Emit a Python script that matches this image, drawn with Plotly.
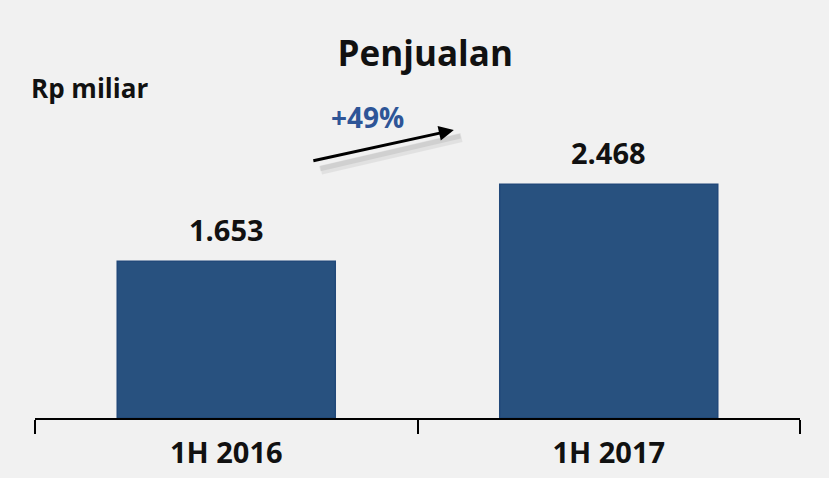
import plotly.graph_objects as go

# data
periods = ["1H 2016", "1H 2017"]
sales = [1653, 2468]
growth_label = "+49%"
unit_label = "Rp miliar"
title_text = "Penjualan"

value_labels = [f"{v:,}".replace(",", ".") for v in sales]

bar_color = "#28517f"
bg = "#f1f1f1"
font_family = "'Open Sans', sans-serif"
txt = "#111111"

fig = go.Figure()

fig.add_trace(go.Bar(x=periods, y=sales,
                     width=0.57,
                     marker=dict(color=bar_color,
                                 line=dict(color="#22497a", width=1.5)),
                     hoverinfo="skip",
                     showlegend=False))

# value labels above bars
for p, v, lab in zip(periods, sales, value_labels):
    fig.add_annotation(x=p, y=v, text="<b>" + lab + "</b>",
                       showarrow=False, yanchor="bottom", yshift=10,
                       font=dict(size=29, color=txt, family=font_family))

# growth arrow (soft shadow first, then the arrow)
fig.add_annotation(x=0.615, y=2960, ax=-142, ay=33, xref="x", yref="y",
                   text="", showarrow=True, arrowhead=0, arrowwidth=9,
                   arrowcolor="rgba(0,0,0,0.06)")
fig.add_annotation(x=0.612, y=2975, ax=-142, ay=33, xref="x", yref="y",
                   text="", showarrow=True, arrowhead=0, arrowwidth=5,
                   arrowcolor="rgba(0,0,0,0.07)")
fig.add_annotation(x=0.595, y=3039, ax=-142, ay=31, xref="x", yref="y",
                   text="", showarrow=True, arrowhead=2, arrowsize=1.0,
                   arrowwidth=3, arrowcolor="black")
fig.add_annotation(x=0.37, y=3175, xref="x", yref="y",
                   text="<b>" + growth_label + "</b>", showarrow=False,
                   font=dict(size=28, color="#2e5597", family=font_family))

# unit label
fig.add_annotation(x=-0.008, y=0.83, xref="paper", yref="paper",
                   text="<b>" + unit_label + "</b>", showarrow=False,
                   xanchor="left", yanchor="middle",
                   font=dict(size=26, color=txt, family=font_family))

fig.update_layout(
    width=829, height=478,
    margin=dict(l=35, r=29, t=20, b=60),
    paper_bgcolor=bg, plot_bgcolor=bg,
    font=dict(family=font_family, color=txt),
    title=dict(text="<b>" + title_text + "</b>", x=0.513, xanchor="center",
               y=0.888, yanchor="middle",
               font=dict(size=35, family=font_family, color=txt)),
)

fig.update_xaxes(showline=True, linecolor="black", linewidth=2,
                 ticks="outside", tickson="boundaries", ticklen=14,
                 tickcolor="black", tickwidth=1.5,
                 ticklabelstandoff=8, automargin=False,
                 tickfont=dict(size=29, family=font_family, color=txt),
                 tickvals=periods, ticktext=["<b>" + p + "</b>" for p in periods],
                 showgrid=False)
fig.update_yaxes(range=[0, 4200], visible=False, showgrid=False)

fig.write_html("out.html", config={"displayModeBar": False},
               post_script="document.body.style.margin='0';"
                           "document.body.style.background='" + bg + "';")
